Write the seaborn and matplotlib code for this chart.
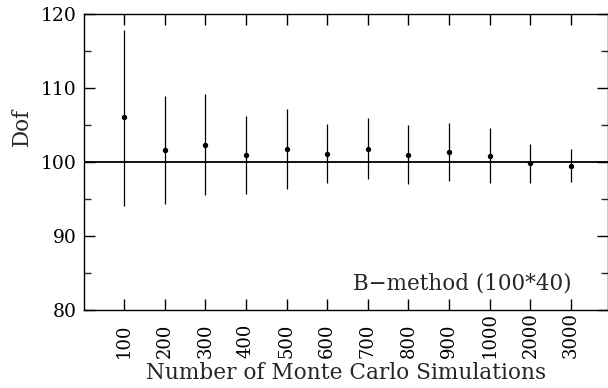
import matplotlib
matplotlib.use("Agg")
import matplotlib.pyplot as plt
import seaborn as sns
import pandas as pd
from matplotlib.ticker import MultipleLocator

sims = ["100", "200", "300", "400", "500", "600", "700", "800", "900", "1000", "2000", "3000"]
dof = [106.1, 101.6, 102.3, 100.9, 101.7, 101.1, 101.8, 101.0, 101.4, 100.8, 99.8, 99.5]
err_low = [94.0, 94.3, 95.6, 95.7, 96.4, 97.1, 97.7, 97.0, 97.5, 97.1, 97.1, 97.3]
err_high = [117.9, 108.9, 109.2, 106.2, 107.1, 105.2, 105.9, 105.05, 105.3, 104.6, 102.5, 101.8]
ref_value = 100
label_text = "B\u2212method (100*40)"

df = pd.DataFrame({"sims": sims, "dof": dof, "low": err_low, "high": err_high})

sns.set_style("ticks")
plt.rcParams["font.family"] = ["DejaVu Serif"]

fig = plt.figure(figsize=(6.08, 3.88), dpi=100)
ax = fig.add_axes([83.5 / 608, 1 - 310 / 388, (607.5 - 83.5) / 608, (310 - 14) / 388])

ax.vlines(df["sims"], df["low"], df["high"], colors="black", linewidth=0.9, zorder=2)
sns.scatterplot(data=df, x="sims", y="dof", ax=ax, color="black", s=15,
                edgecolor="black", linewidth=0, zorder=3, legend=False)
ax.axhline(ref_value, color="black", linewidth=1.3, zorder=1)

ax.set_xlim(-1.0, 11.9)
ax.set_ylim(80, 120)
ax.yaxis.set_major_locator(MultipleLocator(10))
ax.yaxis.set_minor_locator(MultipleLocator(5))

for s in ax.spines.values():
    s.set_linewidth(1.0)
    s.set_color("black")

ax.tick_params(axis="y", which="major", direction="in", length=8, width=1,
               left=True, right=True, labelsize=13.5, pad=5, colors="black")
ax.tick_params(axis="y", which="minor", direction="in", length=5, width=1,
               left=True, right=True)
ax.tick_params(axis="x", which="major", direction="in", length=8, width=1,
               bottom=True, top=True, labelsize=13, pad=34.5, colors="black")
for lab in ax.get_xticklabels():
    lab.set_rotation(90)
    lab.set_va("bottom")
    lab.set_ha("center")

ax.set_xlabel("Number of Monte Carlo Simulations", fontsize=15.6)
ax.xaxis.set_label_coords(0.5005, -0.176)
ax.xaxis.label.set_va("top")
ax.set_ylabel("Dof", fontsize=15.5)
ax.yaxis.set_label_coords(-0.097, 0.62)

ax.text(11.02, 83.6, label_text, ha="right", va="center", fontsize=15.5)

fig.savefig("out.png", dpi=100)
